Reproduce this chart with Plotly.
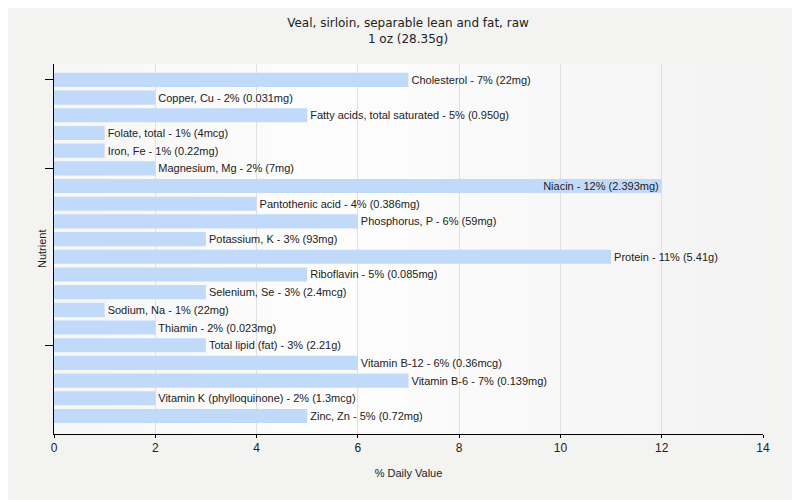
import plotly.graph_objects as go

nutrients = ["Cholesterol", "Copper, Cu", "Fatty acids, total saturated", "Folate, total",
             "Iron, Fe", "Magnesium, Mg", "Niacin", "Pantothenic acid", "Phosphorus, P",
             "Potassium, K", "Protein", "Riboflavin", "Selenium, Se", "Sodium, Na",
             "Thiamin", "Total lipid (fat)", "Vitamin B-12", "Vitamin B-6",
             "Vitamin K (phylloquinone)", "Zinc, Zn"]
percent_dv = [7, 2, 5, 1, 1, 2, 12, 4, 6, 3, 11, 5, 3, 1, 2, 3, 6, 7, 2, 5]
amounts = ["22mg", "0.031mg", "0.950g", "4mcg", "0.22mg", "7mg", "2.393mg", "0.386mg",
           "59mg", "93mg", "5.41g", "0.085mg", "2.4mcg", "22mg", "0.023mg", "2.21g",
           "0.36mcg", "0.139mg", "1.3mcg", "0.72mg"]
y_tick_nutrients = ["Cholesterol", "Magnesium, Mg", "Total lipid (fat)"]

labels = [f"{n} - {v}% ({a})" for n, v, a in zip(nutrients, percent_dv, amounts)]
positions = ["inside" if v >= 12 else "outside" for v in percent_dv]

fig = go.Figure(go.Bar(
    x=percent_dv, y=nutrients, orientation="h",
    marker=dict(color="#c2dafa", line=dict(width=0)),
    width=0.8,
    text=labels, textposition=positions, insidetextanchor="end",
    constraintext="none", textangle=0,
    textfont=dict(family="Liberation Sans, Arial", size=11, color="#222222"),
    cliponaxis=False,
))

# subtle horizontal gradient in the plot background
n_strips = 40
shapes = []
for i in range(n_strips):
    t = (i + 0.5) / n_strips
    d = abs(t - 0.4) / 0.6
    g = int(round(253 - 10 * min(d, 1.0)))
    shapes.append(dict(type="rect", xref="x domain", yref="y domain",
                       x0=i / n_strips, x1=(i + 1) / n_strips + 0.002, y0=0, y1=1,
                       fillcolor=f"rgb({g},{g},{g})", line=dict(width=0), layer="below"))

fig.update_layout(
    width=800, height=500,
    margin=dict(l=46, r=45, t=56, b=74),
    paper_bgcolor="#f3f3f2", plot_bgcolor="#f9f9f9",
    title=dict(text="Veal, sirloin, separable lean and fat, raw<br>1 oz (28.35g)",
               x=0.5, xanchor="center", y=0.962, yanchor="top",
               font=dict(family="DejaVu Sans, Verdana", size=12, color="#222222")),
    font=dict(family="Liberation Sans, Arial", size=11, color="#222222"),
    showlegend=False,
    shapes=shapes,
    annotations=[dict(text="Nutrient", xref="paper", yref="paper", x=-0.0169, y=0.5,
                      xanchor="center", yanchor="middle", textangle=-90, showarrow=False,
                      font=dict(size=11, color="#222222"))],
)
fig.update_xaxes(
    range=[0, 14], dtick=2, showgrid=True, gridcolor="#e0e0e0", gridwidth=1,
    showline=True, linecolor="#000000", linewidth=1,
    ticks="outside", ticklen=3, tickcolor="#000000",
    tickfont=dict(size=12), zeroline=False, automargin=False,
    title=dict(text="% Daily Value", font=dict(size=11), standoff=14),
)
fig.update_yaxes(
    range=[20.02, -0.9], showgrid=False,
    showline=True, linecolor="#000000", linewidth=1,
    ticks="outside", ticklen=8, tickcolor="#000000",
    tickvals=y_tick_nutrients, ticktext=["" for _ in y_tick_nutrients],
    automargin=False,
)

fig.write_html("out.html")
